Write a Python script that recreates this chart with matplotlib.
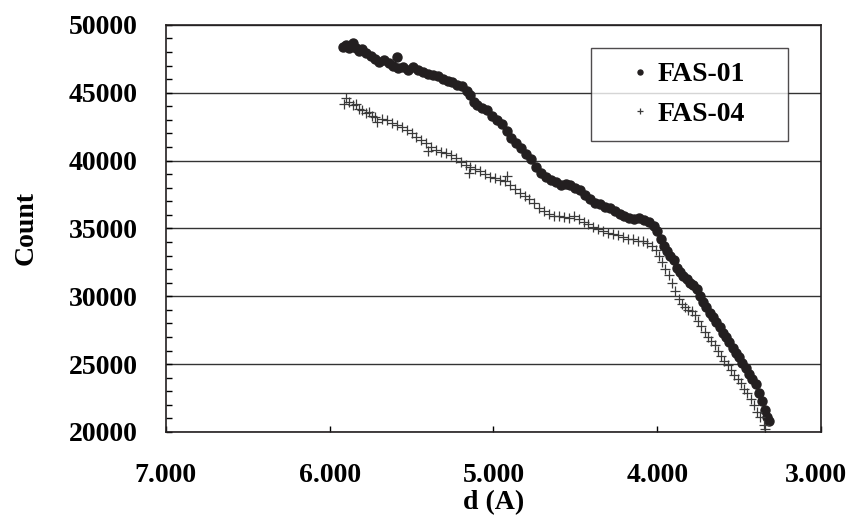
import matplotlib
matplotlib.use("Agg")
import matplotlib.pyplot as plt
from matplotlib.ticker import MultipleLocator, FuncFormatter

plt.rcParams["font.family"] = ["Liberation Serif", "DejaVu Serif"]
plt.rcParams["font.weight"] = "bold"

# FAS-01 (d in angstrom, counts)
d_fas01 = [5.92, 5.90, 5.88, 5.86, 5.84, 5.82, 5.80, 5.78, 5.75, 5.72,
           5.70, 5.67, 5.64, 5.61, 5.59, 5.58, 5.55, 5.52, 5.49, 5.46,
           5.43, 5.40, 5.37, 5.34, 5.31, 5.28, 5.25, 5.22, 5.19, 5.16,
           5.14, 5.12, 5.10, 5.07, 5.04, 5.01, 4.98, 4.95, 4.92, 4.89,
           4.86, 4.83, 4.80, 4.77, 4.74, 4.71, 4.68, 4.65, 4.62, 4.59,
           4.56, 4.53, 4.50, 4.47, 4.44, 4.41, 4.38, 4.35, 4.32, 4.29,
           4.26, 4.23, 4.20, 4.17, 4.14, 4.11, 4.08, 4.05, 4.02, 4.00,
           3.98, 3.96, 3.94, 3.92, 3.90, 3.88, 3.86, 3.84, 3.82, 3.80,
           3.78, 3.76, 3.74, 3.72, 3.70, 3.68, 3.66, 3.64, 3.62, 3.60,
           3.58, 3.56, 3.54, 3.52, 3.50, 3.48, 3.46, 3.44, 3.42, 3.40,
           3.38, 3.36, 3.34, 3.33, 3.32]
c_fas01 = [48400, 48500, 48300, 48650, 48300, 48100, 48200, 47900, 47700, 47500,
           47300, 47400, 47200, 47000, 47600, 46800, 46900, 46700, 46900, 46700,
           46500, 46400, 46300, 46200, 46000, 45900, 45800, 45600, 45500, 45100,
           44800, 44300, 44100, 43900, 43700, 43300, 43000, 42700, 42200, 41700,
           41300, 40900, 40500, 40100, 39500, 39100, 38800, 38600, 38400, 38200,
           38300, 38200, 38000, 37800, 37500, 37200, 36900, 36800, 36600, 36500,
           36300, 36100, 35900, 35800, 35700, 35800, 35600, 35500, 35200, 34800,
           34200, 33700, 33300, 33000, 32700, 32100, 31800, 31500, 31300, 31000,
           30800, 30500, 30000, 29600, 29200, 28800, 28500, 28100, 27700, 27300,
           27000, 26600, 26200, 25800, 25500, 25100, 24700, 24300, 23900, 23500,
           22900, 22300, 21600, 21100, 20800]

# FAS-04
d_fas04 = [5.91, 5.90, 5.88, 5.86, 5.84, 5.82, 5.80, 5.78, 5.76, 5.74,
           5.72, 5.71, 5.68, 5.65, 5.62, 5.59, 5.56, 5.53, 5.50, 5.47,
           5.44, 5.41, 5.40, 5.38, 5.35, 5.32, 5.29, 5.26, 5.23, 5.20,
           5.17, 5.15, 5.14, 5.11, 5.08, 5.05, 5.02, 4.99, 4.96, 4.93,
           4.915, 4.90, 4.87, 4.84, 4.81, 4.78, 4.75, 4.72, 4.69, 4.66,
           4.63, 4.60, 4.57, 4.54, 4.51, 4.48, 4.45, 4.42, 4.39, 4.36,
           4.33, 4.30, 4.27, 4.24, 4.21, 4.18, 4.15, 4.12, 4.09, 4.06,
           4.03, 4.01, 3.99, 3.97, 3.95, 3.93, 3.91, 3.89, 3.87, 3.85,
           3.83, 3.81, 3.79, 3.77, 3.75, 3.73, 3.71, 3.69, 3.67, 3.65,
           3.63, 3.61, 3.59, 3.57, 3.55, 3.53, 3.51, 3.49, 3.47, 3.45,
           3.43, 3.41, 3.39, 3.37, 3.35, 3.34]
c_fas04 = [44200, 44600, 44300, 44100, 44200, 43800, 43700, 43500, 43600, 43300,
           43200, 42850, 43100, 43000, 42800, 42650, 42500, 42250, 42000, 41750,
           41500, 41300, 40700, 41000, 40800, 40600, 40550, 40400, 40200, 39900,
           39700, 39100, 39500, 39400, 39200, 39000, 38800, 38700, 38600, 38500,
           38870, 38200, 37900, 37600, 37400, 37200, 36900, 36500, 36300, 36100,
           35950, 35900, 35850, 35800, 35900, 35700, 35500, 35300, 35100, 34950,
           34800, 34700, 34600, 34500, 34400, 34250, 34200, 34100, 34100, 33900,
           33700, 33400, 33000, 32500, 32000, 31600, 31000, 30400, 29800, 29400,
           29200, 29000, 28900, 28600, 28200, 27800, 27400, 27000, 26700, 26400,
           26000, 25600, 25200, 24900, 24600, 24200, 23900, 23600, 23200, 22900,
           22400, 22000, 21500, 21100, 20500, 20200]

x_min, x_max = 3, 7

fig = plt.figure(figsize=(8.5, 5.3), dpi=100)
ax = fig.add_axes([0.195, 0.185, 0.771, 0.768])

ax.plot(d_fas01, c_fas01, linestyle="none", marker="o", markersize=6.5,
        color="#231f20", label="FAS-01")
ax.plot(d_fas04, c_fas04, linestyle="none", marker="+", markersize=7,
        markeredgewidth=0.9, color="#3a3a3a", label="FAS-04")

ax.set_xlim(x_max, x_min)
ax.set_ylim(20000, 50000)
ax.xaxis.set_major_locator(MultipleLocator(1))
# the 3.000 label is drawn below, nudged inward like the original
ax.xaxis.set_major_formatter(FuncFormatter(lambda v, p: "" if abs(v - x_min) < 1e-6 else "%.3f" % v))
ax.yaxis.set_major_locator(MultipleLocator(5000))
ax.yaxis.set_minor_locator(MultipleLocator(1000))

ax.tick_params(axis="both", which="both", direction="in", labelsize=20,
               width=1, length=4, top=False, right=False)
ax.tick_params(axis="x", pad=22)
ax.tick_params(axis="y", pad=20)

ax.annotate("%.3f" % x_min, xy=(x_min, 0), xycoords=("data", "axes fraction"),
            xytext=(-4, -22), textcoords="offset points", ha="center", va="top",
            fontsize=20, fontweight="bold")

ax.grid(axis="y", which="major", color="#333333", linewidth=1)
ax.set_axisbelow(True)
for s in ax.spines.values():
    s.set_linewidth(1.2)
    s.set_color("#231f20")

ax.set_xlabel("d (A)", fontsize=20, fontweight="bold", labelpad=2)
ax.set_ylabel("Count", fontsize=20, fontweight="bold", labelpad=22)

leg = ax.legend(loc="upper left", bbox_to_anchor=(0.649, 0.717, 0.301, 0.226),
                mode="expand", borderaxespad=0,
                fontsize=20, markerscale=0.55, frameon=True, fancybox=False,
                handlelength=2.5, handletextpad=-0.6, borderpad=0.5,
                labelspacing=0.5)
leg.get_frame().set_edgecolor("#231f20")
leg.get_frame().set_linewidth(1)
for t in leg.get_texts():
    t.set_fontweight("bold")

fig.savefig("out.png", dpi=100)
